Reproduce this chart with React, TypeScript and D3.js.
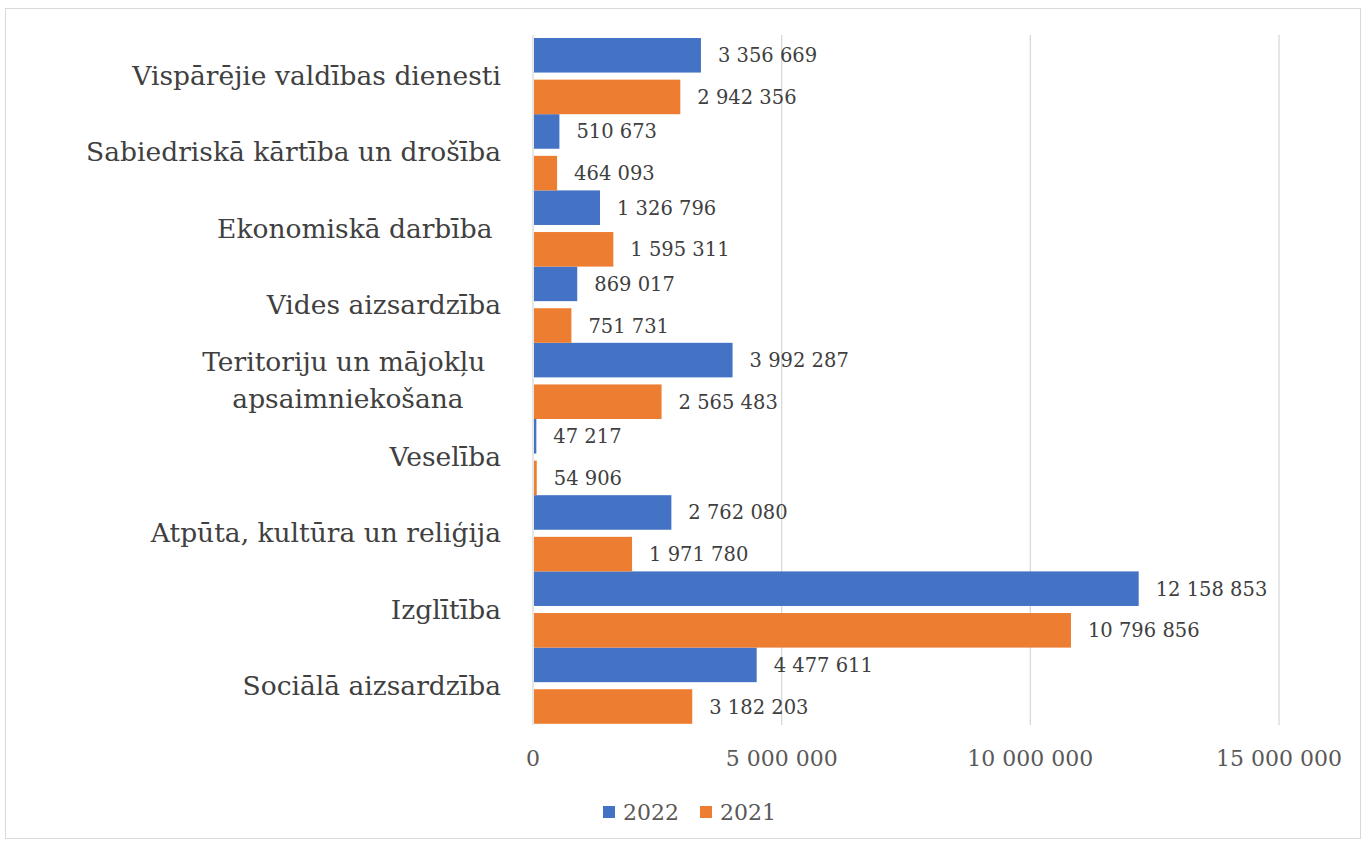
import React, { useEffect, useRef } from 'react';
import * as d3 from 'd3';

const categories: string[] = [
  "Vispārējie valdības dienesti",
  "Sabiedriskā kārtība un drošība",
  "Ekonomiskā darbība ",
  "Vides aizsardzība",
  "Teritoriju un mājokļu |apsaimniekošana",
  "Veselība",
  "Atpūta, kultūra un reliģija",
  "Izglītība",
  "Sociālā aizsardzība",
];

const values2022: number[] = [3356669, 510673, 1326796, 869017, 3992287, 47217, 2762080, 12158853, 4477611];
const values2021: number[] = [2942356, 464093, 1595311, 751731, 2565483, 54906, 1971780, 10796856, 3182203];

const seriesNames: string[] = ["2022", "2021"];
const seriesColors: string[] = ["#4472C4", "#ED7D31"];
const xTicks: number[] = [0, 5000000, 10000000, 15000000];

const fmt = (v: number) => d3.format(",")(v).replace(/,/g, " ");

const font = "'DejaVu Serif', serif";

const App = () => {
  const ref = useRef<SVGSVGElement>(null);

  useEffect(() => {
    const svg = d3.select(ref.current);
    svg.selectAll("*").remove();

    // outer frame
    svg.append("rect")
      .attr("x", 5.5).attr("y", 8.5)
      .attr("width", 1355).attr("height", 830)
      .attr("fill", "white")
      .attr("stroke", "#d9d9d9")
      .attr("stroke-width", 1);

    const x = d3.scaleLinear().domain([0, 15000000]).range([533, 1279]);
    const y = d3.scaleBand().domain(categories).range([38, 723.8]).padding(0);
    const ySub = d3.scaleBand().domain(seriesNames).range([0, y.bandwidth()]).paddingInner(0.17).paddingOuter(0);

    // gridlines
    svg.selectAll("line.grid")
      .data(xTicks)
      .join("line")
      .attr("class", "grid")
      .attr("x1", d => x(d)).attr("x2", d => x(d))
      .attr("y1", 35).attr("y2", 725)
      .attr("stroke", "#d9d9d9")
      .attr("stroke-width", 1.3);

    // tick labels
    svg.selectAll("text.tick")
      .data(xTicks)
      .join("text")
      .attr("class", "tick")
      .attr("x", d => x(d))
      .attr("y", 766)
      .attr("text-anchor", "middle")
      .style("font-family", font)
      .attr("font-size", 22)
      .attr("fill", "#595959")
      .text(d => fmt(d));

    const series = [values2022, values2021];
    series.forEach((vals, si) => {
      const name = seriesNames[si];
      svg.selectAll("rect.bar" + si)
        .data(vals)
        .join("rect")
        .attr("class", "bar" + si)
        .attr("x", x(0) + 1)
        .attr("y", (d, i) => (y(categories[i]) as number) + (ySub(name) as number))
        .attr("width", d => Math.max(0, x(d) - x(0)))
        .attr("height", ySub.bandwidth())
        .attr("fill", seriesColors[si]);

      svg.selectAll("text.lab" + si)
        .data(vals)
        .join("text")
        .attr("class", "lab" + si)
        .attr("x", d => x(d) + 18)
        .attr("y", (d, i) => (y(categories[i]) as number) + (ySub(name) as number) + ySub.bandwidth() / 2 + 7)
        .style("font-family", font)
        .attr("font-size", 19.5)
        .attr("fill", "#404040")
        .text(d => fmt(d));
    });

    // category labels
    categories.forEach(c => {
      const cy = (y(c) as number) + y.bandwidth() / 2;
      const lines = c.split("|");
      if (lines.length === 1) {
        svg.append("text")
          .attr("x", 501)
          .attr("y", cy + 9)
          .attr("text-anchor", "end")
          .style("font-family", font)
          .attr("font-size", 26.5)
          .attr("fill", "#404040")
          .style("white-space", "pre")
          .text(c);
      } else {
        lines.forEach((l, li) => {
          svg.append("text")
            .attr("x", 348)
            .attr("y", cy + 9 + (li - 0.5) * 37)
            .attr("text-anchor", "middle")
            .style("font-family", font)
            .attr("font-size", 26.5)
            .attr("fill", "#404040")
            .style("white-space", "pre")
            .text(l);
        });
      }
    });

    // legend
    const legX = [603, 700];
    seriesNames.forEach((s, i) => {
      svg.append("rect")
        .attr("x", legX[i]).attr("y", 806)
        .attr("width", 12).attr("height", 12)
        .attr("fill", seriesColors[i]);
      svg.append("text")
        .attr("x", legX[i] + 20)
        .attr("y", 820)
        .style("font-family", font)
        .attr("font-size", 22)
        .attr("fill", "#595959")
        .text(s);
    });
  }, []);

  return (
    <svg ref={ref} width={1368} height={846} style={{ position: "absolute", left: 0, top: 0, background: "white" }} />
  );
};

export default App;
